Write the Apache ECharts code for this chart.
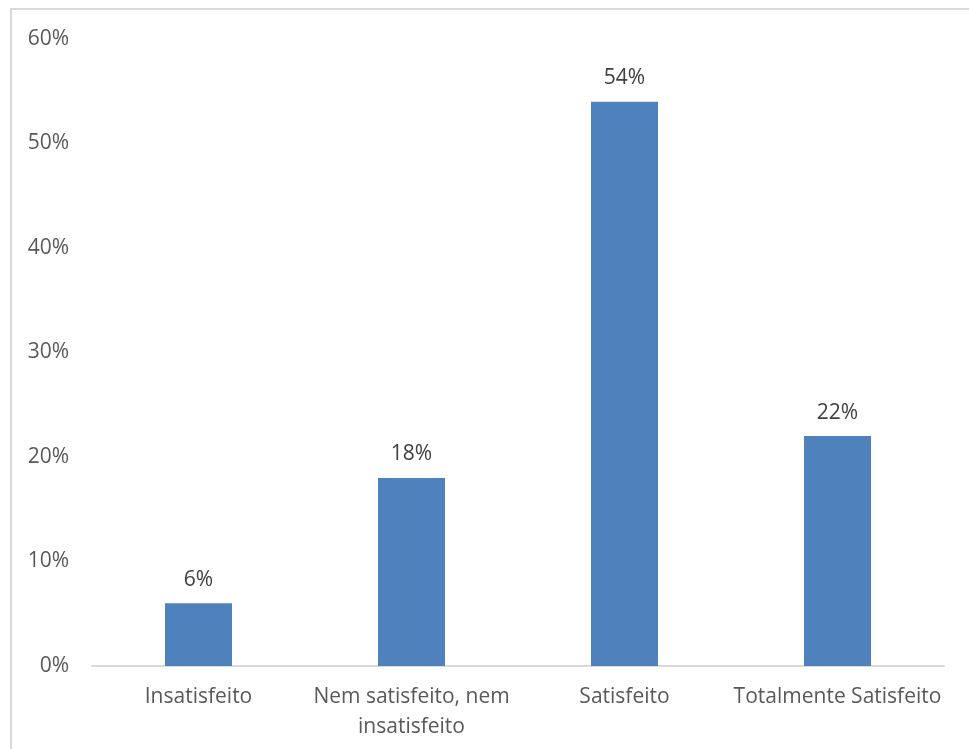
<!DOCTYPE html>
<html>
<head>
<meta charset="utf-8">
<script src="https://cdn.jsdelivr.net/npm/echarts@6/dist/echarts.min.js"></script>
<style>
html,body{margin:0;padding:0;background:#fff;}
#chart{width:969px;height:749px;}
</style>
</head>
<body>
<div id="chart"></div>
<script>
var categories = ["Insatisfeito", "Nem satisfeito, nem insatisfeito", "Satisfeito", "Totalmente Satisfeito"];
var values = [6, 18, 54, 22];
var yTicks = [0, 10, 20, 30, 40, 50, 60];

var chart = echarts.init(document.getElementById('chart'));
chart.setOption({
  animation: false,
  backgroundColor: '#ffffff',
  graphic: [{
    type: 'rect',
    shape: {x: 11, y: 9, width: 1000, height: 800},
    style: {fill: 'none', stroke: '#d9d9d9', lineWidth: 2},
    silent: true
  }],
  grid: {left: 92, right: 25, top: 39, bottom: 83, containLabel: false},
  xAxis: {
    type: 'category',
    data: categories,
    axisLine: {show: true, lineStyle: {color: '#d9d9d9', width: 2}},
    axisTick: {show: false},
    axisLabel: {
      interval: 0,
      margin: 16,
      color: '#595959',
      fontFamily: 'Open Sans',
      fontSize: 21,
      lineHeight: 30,
      formatter: function (v) { return v.replace(', nem ', ', nem\n'); }
    }
  },
  yAxis: {
    type: 'value',
    min: yTicks[0],
    max: yTicks[yTicks.length - 1],
    interval: 10,
    axisLine: {show: false},
    axisTick: {show: false},
    splitLine: {show: false},
    axisLabel: {
      margin: 23,
      color: '#595959',
      fontFamily: 'Open Sans',
      fontSize: 21,
      formatter: function (v) { return v + '%'; }
    }
  },
  series: [{
    type: 'bar',
    data: values,
    barWidth: 67,
    itemStyle: {color: '#4f81bd'},
    label: {
      show: true,
      position: 'top',
      distance: 13,
      color: '#404040',
      fontFamily: 'Open Sans',
      fontSize: 21,
      formatter: function (p) { return p.value + '%'; }
    }
  }]
});
</script>
</body>
</html>
